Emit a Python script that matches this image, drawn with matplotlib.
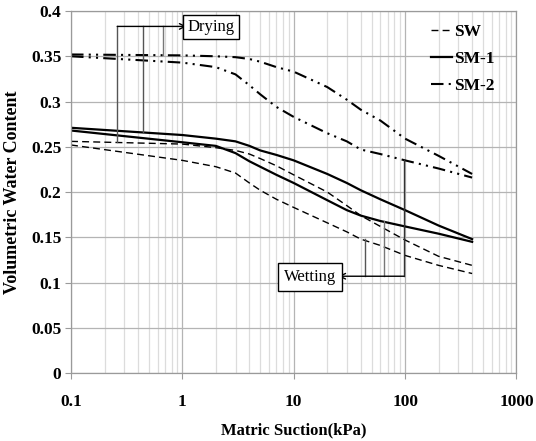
import matplotlib
matplotlib.use("Agg")
import matplotlib.pyplot as plt
from matplotlib.ticker import LogLocator, FixedLocator, NullFormatter

plt.rcParams['font.family'] = ['Liberation Serif', 'DejaVu Serif']

# matric suction (kPa) and volumetric water content
suction = [0.1, 1, 2, 3, 4, 5, 7, 10, 20, 30, 40, 60, 100, 200, 400]
sw_dry = [0.256, 0.253, 0.249, 0.246, 0.242, 0.237, 0.229, 0.219, 0.200,
          0.185, 0.174, 0.162, 0.147, 0.129, 0.119]
sw_wet = [0.252, 0.235, 0.228, 0.221, 0.210, 0.202, 0.192, 0.183, 0.166,
          0.156, 0.148, 0.141, 0.130, 0.119, 0.110]
sm1_dry = [0.271, 0.263, 0.259, 0.256, 0.251, 0.246, 0.241, 0.235, 0.220,
           0.210, 0.202, 0.192, 0.180, 0.163, 0.148]
sm1_wet = [0.268, 0.255, 0.251, 0.243, 0.234, 0.228, 0.219, 0.210, 0.191,
           0.180, 0.174, 0.168, 0.162, 0.154, 0.145]
sm2_dry = [0.352, 0.351, 0.350, 0.349, 0.347, 0.344, 0.338, 0.333, 0.316,
           0.302, 0.291, 0.279, 0.259, 0.240, 0.220]
sm2_wet = [0.350, 0.343, 0.338, 0.330, 0.318, 0.308, 0.294, 0.283, 0.265,
           0.256, 0.247, 0.242, 0.235, 0.226, 0.216]

x_ticks = [0.1, 1, 10, 100, 1000]
x_tick_labels = ['0.1', '1', '10', '100', '1000']
y_ticks = [0, 0.05, 0.1, 0.15, 0.2, 0.25, 0.3, 0.35, 0.4]
y_tick_labels = ['0', '0.05', '0.1', '0.15', '0.2', '0.25', '0.3', '0.35', '0.4']

fig = plt.figure(figsize=(5.36, 4.41), dpi=100)
ax = fig.add_axes([0.1325, 0.154, 0.831, 0.821])

sw_style = dict(color='black', lw=1.0, linestyle=(0, (5, 3)))
sm1_style = dict(color='black', lw=1.6, linestyle='-')
sm2_style = dict(color='black', lw=1.5, linestyle=(0, (6, 2.5, 1, 2.5, 1, 2.5)))

ax.plot(suction, sw_dry, label='SW', **sw_style)
ax.plot(suction, sw_wet, **sw_style)
ax.plot(suction, sm1_dry, label='SM-1', **sm1_style)
ax.plot(suction, sm1_wet, **sm1_style)
ax.plot(suction, sm2_dry, label='SM-2', **sm2_style)
ax.plot(suction, sm2_wet, **sm2_style)

ax.set_xscale('log')
ax.set_xlim(0.1, 1000)
ax.set_ylim(0, 0.4)
ax.xaxis.set_major_locator(FixedLocator(x_ticks))
ax.set_xticklabels(x_tick_labels)
ax.xaxis.set_minor_locator(LogLocator(base=10, subs=range(2, 10)))
ax.xaxis.set_minor_formatter(NullFormatter())
ax.set_yticks(y_ticks)
ax.set_yticklabels(y_tick_labels)

ax.grid(which='major', color='#b4b4b4', lw=0.9)
ax.grid(which='minor', axis='x', color='#dcdcdc', lw=0.9)
ax.set_axisbelow(True)
for s in ax.spines.values():
    s.set_color('#9a9a9a')
    s.set_linewidth(0.9)
ax.tick_params(which='major', length=4, color='#9a9a9a', labelsize=12.5)
ax.tick_params(which='minor', length=0)
ax.tick_params(axis='x', pad=11)
ax.tick_params(axis='y', pad=3)
for lab in ax.get_xticklabels() + ax.get_yticklabels():
    lab.set_fontweight('bold')

ax.set_xlabel('Matric Suction(kPa)', fontsize=12, fontweight='bold', labelpad=9)
ax.set_ylabel('Volumetric Water Content', fontsize=13, fontweight='bold', labelpad=7)

leg = ax.legend(loc='upper right', bbox_to_anchor=(0.95, 0.965), frameon=False,
                borderpad=0, borderaxespad=0,
                handlelength=1.2, handletextpad=0.1, labelspacing=0.62,
                prop={'weight': 'bold', 'size': 12.5})

# drying annotation
ax.plot([0.26, 0.26], [0.383, 0.255], color='#555555', lw=1.0)
ax.plot([0.44, 0.44], [0.383, 0.266], color='#555555', lw=1.0)
ax.plot([0.67, 0.67], [0.383, 0.351], color='#777777', lw=1.0)
ax.annotate('', xy=(1.09, 0.383), xytext=(0.26, 0.383),
            arrowprops=dict(arrowstyle='->', color='black', lw=1.0,
                            shrinkA=0, shrinkB=0))
ax.text(1.8, 0.382, 'Drying', ha='center', va='center', fontsize=12,
        bbox=dict(boxstyle='square,pad=0.25', fc='white', ec='black', lw=1.0))

# wetting annotation
ax.plot([43.7, 43.7], [0.107, 0.148], color='#555555', lw=1.0)
ax.plot([64.6, 64.6], [0.107, 0.168], color='#777777', lw=1.0)
ax.plot([98, 98], [0.107, 0.235], color='#333333', lw=1.0)
ax.annotate('', xy=(25.2, 0.107), xytext=(98, 0.107),
            arrowprops=dict(arrowstyle='->', color='black', lw=1.0,
                            shrinkA=0, shrinkB=0))
ax.text(14.1, 0.106, 'Wetting', ha='center', va='center', fontsize=12,
        bbox=dict(boxstyle='square,pad=0.35', fc='white', ec='black', lw=1.0))

fig.savefig('out.png', dpi=100)
